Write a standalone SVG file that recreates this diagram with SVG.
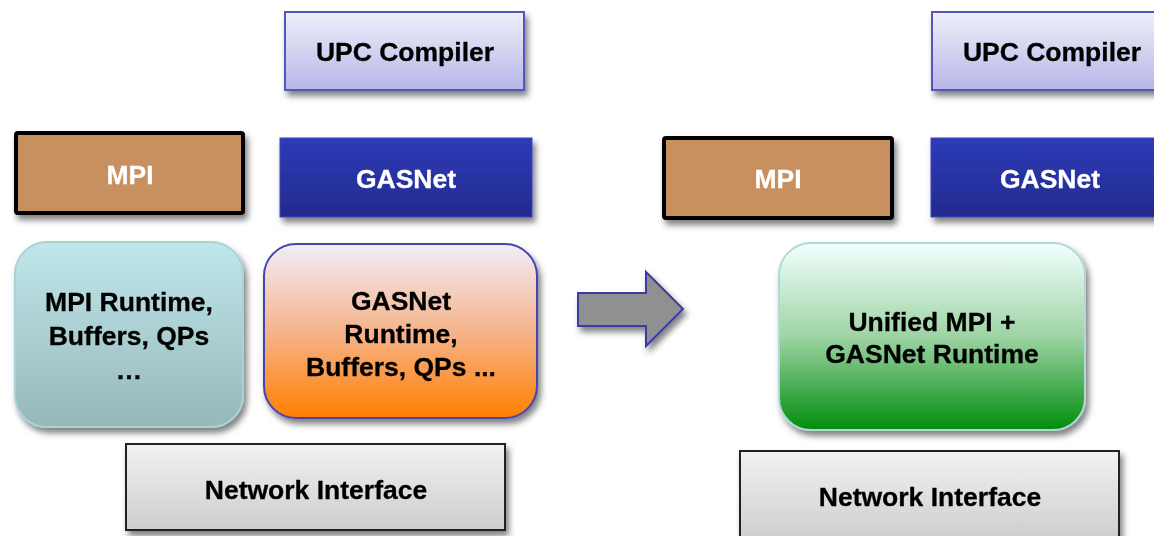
<svg xmlns="http://www.w3.org/2000/svg" width="1154" height="536" viewBox="0 0 1154 536">
<style>
text{font-family:"Liberation Sans",Arial,Helvetica,sans-serif;font-weight:bold;font-size:26.5px;text-anchor:middle;dominant-baseline:central}
.dk{fill:#000;stroke:#000;stroke-width:0.3}
.wt{fill:#fff;stroke:#fff;stroke-width:0.3}
.sh{filter:url(#ds)}
</style>
<defs>
<filter id="ds" x="-10%" y="-10%" width="125%" height="130%">
<feDropShadow dx="3" dy="5" stdDeviation="3" flood-color="#000" flood-opacity="0.5"/>
</filter>
<linearGradient id="gUpc" x1="0" y1="0" x2="0" y2="1"><stop offset="0" stop-color="#efeffa"/><stop offset="1" stop-color="#b6b6e8"/></linearGradient>
<linearGradient id="gGas" x1="0" y1="0" x2="0" y2="1"><stop offset="0" stop-color="#2d3bb8"/><stop offset="1" stop-color="#232a8e"/></linearGradient>
<linearGradient id="gMpiRt" x1="0" y1="0" x2="0" y2="1"><stop offset="0" stop-color="#c0e7eb"/><stop offset="1" stop-color="#96b8b9"/></linearGradient>
<linearGradient id="gGasRt" x1="0" y1="0" x2="0" y2="1"><stop offset="0" stop-color="#f0eef8"/><stop offset="0.5" stop-color="#f6b48c"/><stop offset="1" stop-color="#ff7f00"/></linearGradient>
<linearGradient id="gUni" x1="0" y1="0" x2="0" y2="1"><stop offset="0" stop-color="#f2ffff"/><stop offset="0.5" stop-color="#9ed4a4"/><stop offset="1" stop-color="#008c0c"/></linearGradient>
<linearGradient id="gNet" x1="0" y1="0" x2="0" y2="1"><stop offset="0" stop-color="#f2f2f2"/><stop offset="1" stop-color="#cdcdcd"/></linearGradient>
</defs>
<rect width="1154" height="536" fill="#fff"/>

<g id="upc-left" class="sh">
<rect x="285" y="12" width="239" height="78" fill="url(#gUpc)" stroke="#5555bb" stroke-width="2"/>
<text x="405" y="52" class="dk">UPC Compiler</text>
</g>
<g id="mpi-left" class="sh">
<rect x="16" y="133" width="227" height="80" fill="#c8905e" stroke="#000" stroke-width="4" rx="2"/>
<text x="130" y="175" class="wt">MPI</text>
</g>
<g id="gasnet-left" class="sh">
<rect x="280" y="138" width="252" height="79" fill="url(#gGas)" stroke="#3a44c0" stroke-width="1"/>
<text x="406" y="179" class="wt">GASNet</text>
</g>
<g id="mpi-runtime" class="sh">
<rect x="15" y="242" width="228" height="185" rx="32" fill="url(#gMpiRt)" stroke="#a9d3d6" stroke-width="2"/>
<text x="129" y="302" class="dk">MPI Runtime,</text>
<text x="129" y="336" class="dk">Buffers, QPs</text>
<text x="129" y="370" class="dk">…</text>
</g>
<g id="gasnet-runtime" class="sh">
<rect x="264" y="244" width="273" height="174" rx="32" fill="url(#gGasRt)" stroke="#4444b0" stroke-width="2"/>
<text x="401" y="301" class="dk">GASNet</text>
<text x="401" y="334" class="dk">Runtime,</text>
<text x="401" y="367" class="dk">Buffers, QPs ...</text>
</g>
<g id="net-left" class="sh">
<rect x="126" y="444" width="379" height="86" fill="url(#gNet)" stroke="#222" stroke-width="2"/>
<text x="316" y="490" class="dk">Network Interface</text>
</g>

<g id="connectors">
<path class="sh" d="M578,293 H646 V272 L683,309 L646,346 V326 H578 Z" fill="#909090" stroke="#3a3aa8" stroke-width="2" stroke-linejoin="miter"/>
</g>

<g id="upc-right" class="sh">
<rect x="932" y="12" width="239" height="78" fill="url(#gUpc)" stroke="#5555bb" stroke-width="2"/>
<text x="1052" y="52" class="dk">UPC Compiler</text>
</g>
<g id="mpi-right" class="sh">
<rect x="664" y="138" width="228" height="80" fill="#c8905e" stroke="#000" stroke-width="4" rx="2"/>
<text x="778" y="179" class="wt">MPI</text>
</g>
<g id="gasnet-right" class="sh">
<rect x="931" y="138" width="252" height="79" fill="url(#gGas)" stroke="#3a44c0" stroke-width="1"/>
<text x="1050" y="179" class="wt">GASNet</text>
</g>
<g id="unified-runtime" class="sh">
<rect x="779" y="243" width="306" height="187" rx="32" fill="url(#gUni)" stroke="#b0d8d8" stroke-width="2"/>
<text x="932" y="322" class="dk">Unified MPI +</text>
<text x="932" y="354" class="dk">GASNet Runtime</text>
</g>
<g id="net-right" class="sh">
<rect x="740" y="451" width="379" height="90" fill="url(#gNet)" stroke="#222" stroke-width="2"/>
<text x="930" y="497" class="dk">Network Interface</text>
</g>
</svg>
